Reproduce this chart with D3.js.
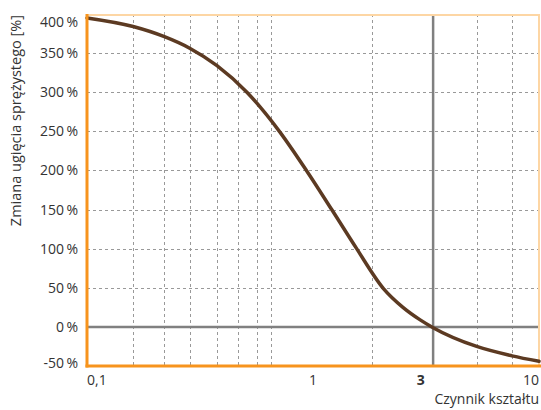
<!DOCTYPE html>
<html><head><meta charset="utf-8">
<script src="https://cdn.jsdelivr.net/npm/d3@7"></script>
<style>body{margin:0;background:#fff}svg{display:block}text{font-family:"Open Sans","Noto Sans",sans-serif;fill:#333}</style>
</head><body><svg id="c" width="541" height="410"></svg>
<script>
const shapeFactor = [0.1, 0.16, 0.22, 0.286, 0.376, 0.51, 0.71, 0.94, 1.21, 1.56, 2.05, 2.5, 2.98, 3.4, 5.3, 7.6, 10];
const deflection = [395, 384, 371, 356, 334, 300, 250, 199, 150, 100, 49, 25, 9, -1, -25, -37, -44];
const xGridValues = [0.16, 0.22, 0.286, 0.376, 0.466, 0.565, 0.652, 1.82, 5.3, 7.6];
const xMarker = 3.4;
const xTickValues = [0.1, 1, 3, 10];
const xTickLabels = ["0,1", "1", "3", "10"];
const yTickValues = [-50, 0, 50, 100, 150, 200, 250, 300, 350, 400];
const yGridValues = [50, 100, 150, 200, 250, 300, 350];

const svg = d3.select("#c");
const x = d3.scaleLog().domain([0.1, 10]).range([87, 539]);
const y = d3.scaleLinear().domain([-50, 400]).range([366, 14]);
const orange = "#F7941D", peach = "#FDD6A4";

// grid
svg.append("g").selectAll("line").data(yGridValues).join("line")
  .attr("x1", x(0.1)).attr("x2", x(10)).attr("y1", d => Math.round(y(d)) + 0.5).attr("y2", d => Math.round(y(d)) + 0.5)
  .attr("stroke", "#999").attr("stroke-width", 1).attr("stroke-dasharray", "3,3");
svg.append("g").selectAll("line").data(xGridValues).join("line")
  .attr("x1", d => Math.round(x(d)) + 0.5).attr("x2", d => Math.round(x(d)) + 0.5)
  .attr("y1", y(400)).attr("y2", y(-50))
  .attr("stroke", "#999").attr("stroke-width", 1).attr("stroke-dasharray", "3,3");

// zero line and marker
svg.append("line").attr("x1", x(0.1)).attr("x2", x(10)).attr("y1", y(0)).attr("y2", y(0))
  .attr("stroke", "#808080").attr("stroke-width", 2.5);
svg.append("line").attr("x1", x(xMarker)).attr("x2", x(xMarker)).attr("y1", y(400)).attr("y2", y(-50))
  .attr("stroke", "#808080").attr("stroke-width", 2.5);

// frame
svg.append("line").attr("x1", x(0.1)).attr("x2", x(10)).attr("y1", y(400) + 1).attr("y2", y(400) + 1)
  .attr("stroke", peach).attr("stroke-width", 2);
svg.append("line").attr("x1", x(10)).attr("x2", x(10)).attr("y1", y(400)).attr("y2", y(-50))
  .attr("stroke", peach).attr("stroke-width", 2);

// curve
const pts = shapeFactor.map((d, i) => [d, deflection[i]]);
svg.append("path").datum(pts)
  .attr("d", d3.line().x(d => x(d[0])).y(d => y(d[1])).curve(d3.curveMonotoneX))
  .attr("fill", "none").attr("stroke", "#5C3A22").attr("stroke-width", 3.5).attr("stroke-linecap", "round");

// axes
svg.append("line").attr("x1", x(0.1)).attr("x2", x(0.1)).attr("y1", y(400)).attr("y2", y(-50) + 1.5)
  .attr("stroke", orange).attr("stroke-width", 3);
svg.append("line").attr("x1", x(0.1) - 1.5).attr("x2", 541).attr("y1", y(-50)).attr("y2", y(-50))
  .attr("stroke", orange).attr("stroke-width", 3);

// y labels
svg.append("g").selectAll("text").data(yTickValues).join("text")
  .attr("x", 78).attr("y", d => Math.min(Math.max(y(d), 22), 363) + 5)
  .attr("text-anchor", "end").attr("font-size", 14)
  .text(d => d + "\u2009%");

// x labels
svg.append("g").selectAll("text").data(xTickValues).join("text")
  .attr("x", d => x(d)).attr("y", 385)
  .attr("text-anchor", (d, i) => i === 0 ? "start" : (i === xTickValues.length - 1 ? "end" : "middle"))
  .attr("font-size", 14)
  .attr("font-weight", d => d === 3 ? "bold" : "normal")
  .text((d, i) => xTickLabels[i]);

// titles
svg.append("text").attr("x", 539).attr("y", 404).attr("text-anchor", "end").attr("font-size", 14)
  .text("Czynnik kształtu");
svg.append("text").attr("transform", "translate(21,15) rotate(-90)").attr("text-anchor", "end").attr("font-size", 14.5)
  .text("Zmiana ugięcia sprężystego [%]");
</script></body></html>
